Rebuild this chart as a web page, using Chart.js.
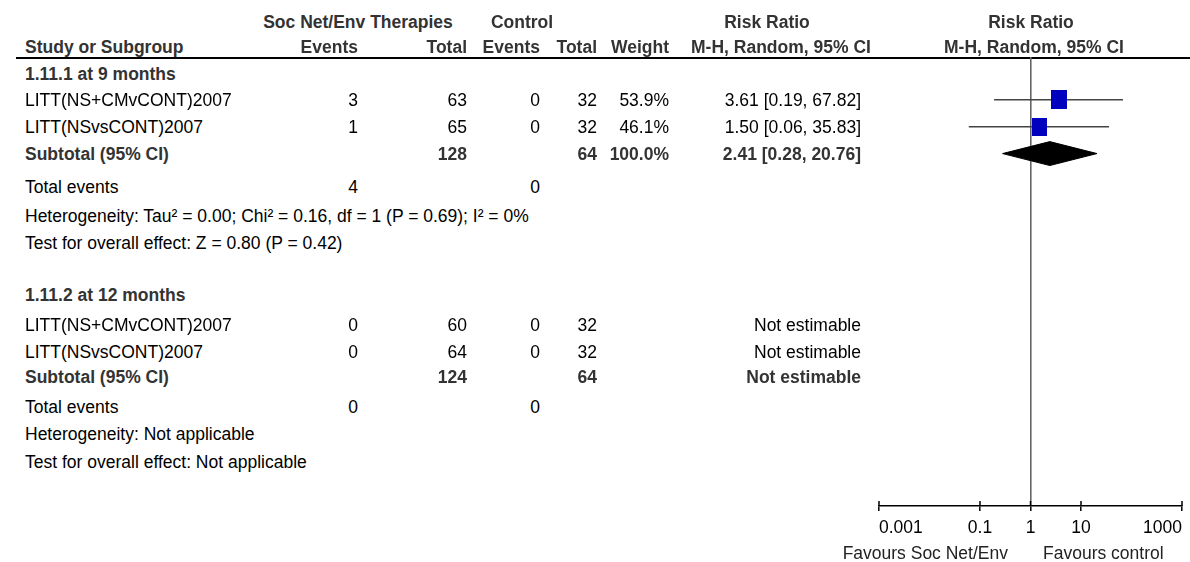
<!DOCTYPE html>
<html>
<head>
<meta charset="utf-8">
<script src="https://cdn.jsdelivr.net/npm/chart.js@4/dist/chart.umd.min.js"></script>
<style>
html, body { margin: 0; padding: 0; background: #fff; }
#page { position: relative; width: 1190px; height: 562px; overflow: hidden;
  font-family: "Liberation Sans", Arial, sans-serif; font-size: 17.5px; color: #000; }
.t { position: absolute; white-space: nowrap; line-height: 20px; }
.b { font-weight: bold; color: #333; }
#rule { position: absolute; left: 16px; right: 0; top: 57px; height: 1.5px; background: #000; }
#plot { position: absolute; left: 850px; top: 0; }
</style>
</head>
<body>
<div id="page">
  <div id="rule"></div>
  <canvas id="plot" width="340" height="562"></canvas>
</div>
<script>
// ---- data ----
var studyNames = ["LITT(NS+CMvCONT)2007", "LITT(NSvsCONT)2007"];

// 1.11.1 at 9 months
var g1ExpEvents = [3, 1];
var g1ExpTotal = [63, 65];
var g1CtlEvents = [0, 0];
var g1CtlTotal = [32, 32];
var g1Weight = [53.9, 46.1];
var g1RR = [3.61, 1.50];
var g1Lower = [0.19, 0.06];
var g1Upper = [67.82, 35.83];
var g1SubTotals = [128, 64];
var g1SubRR = [2.41, 0.28, 20.76];   // estimate, lower, upper
var g1TotalEvents = [4, 0];
var g1Het = "Heterogeneity: Tau² = 0.00; Chi² = 0.16, df = 1 (P = 0.69); I² = 0%";
var g1Test = "Test for overall effect: Z = 0.80 (P = 0.42)";

// 1.11.2 at 12 months
var g2ExpEvents = [0, 0];
var g2ExpTotal = [60, 64];
var g2CtlEvents = [0, 0];
var g2CtlTotal = [32, 32];
var g2SubTotals = [124, 64];
var g2TotalEvents = [0, 0];
var g2Het = "Heterogeneity: Not applicable";
var g2Test = "Test for overall effect: Not applicable";

var axisTicks = [0.001, 0.1, 1, 10, 1000];

// ---- layout (page pixels) ----
var rowY = {
  head1: 22, head2: 47,
  g1Title: 74, g1Rows: [100, 127], g1Sub: 154, g1Events: 187, g1Het: 216, g1Test: 243,
  g2Title: 295, g2Rows: [325, 352], g2Sub: 377, g2Events: 407, g2Het: 434, g2Test: 462
};
var col = { study: 25, expEv: 358, expTot: 467, ctlEv: 540, ctlTot: 597, weight: 669, rr: 861 };

var page = document.getElementById('page');

function put(text, x, y, align, bold) {
  var d = document.createElement('div');
  d.className = 't' + (bold ? ' b' : '');
  d.textContent = text;
  d.style.top = (y - 10) + 'px';
  if (align === 'left') {
    d.style.left = x + 'px';
  } else if (align === 'right') {
    d.style.left = (x - 300) + 'px'; d.style.width = '300px'; d.style.textAlign = 'right';
  } else {
    d.style.left = (x - 150) + 'px'; d.style.width = '300px'; d.style.textAlign = 'center';
  }
  page.appendChild(d);
  return d;
}

function ci(v) { return v[0].toFixed(2) + " [" + v[1].toFixed(2) + ", " + v[2].toFixed(2) + "]"; }

// headers
put("Soc Net/Env Therapies", 358, rowY.head1, 'center', true);
put("Control", 522, rowY.head1, 'center', true);
put("Risk Ratio", 767, rowY.head1, 'center', true);
put("Risk Ratio", 1031, rowY.head1, 'center', true);
put("Study or Subgroup", col.study, rowY.head2, 'left', true);
put("Events", col.expEv, rowY.head2, 'right', true);
put("Total", col.expTot, rowY.head2, 'right', true);
put("Events", col.ctlEv, rowY.head2, 'right', true);
put("Total", col.ctlTot, rowY.head2, 'right', true);
put("Weight", col.weight, rowY.head2, 'right', true);
put("M-H, Random, 95% CI", 781, rowY.head2, 'center', true);
put("M-H, Random, 95% CI", 1034, rowY.head2, 'center', true);

// group 1
put("1.11.1 at 9 months", col.study, rowY.g1Title, 'left', true);
studyNames.forEach(function (name, i) {
  var y = rowY.g1Rows[i];
  put(name, col.study, y, 'left');
  put(String(g1ExpEvents[i]), col.expEv, y, 'right');
  put(String(g1ExpTotal[i]), col.expTot, y, 'right');
  put(String(g1CtlEvents[i]), col.ctlEv, y, 'right');
  put(String(g1CtlTotal[i]), col.ctlTot, y, 'right');
  put(g1Weight[i].toFixed(1) + "%", col.weight, y, 'right');
  put(ci([g1RR[i], g1Lower[i], g1Upper[i]]), col.rr, y, 'right');
});
put("Subtotal (95% CI)", col.study, rowY.g1Sub, 'left', true);
put(String(g1SubTotals[0]), col.expTot, rowY.g1Sub, 'right', true);
put(String(g1SubTotals[1]), col.ctlTot, rowY.g1Sub, 'right', true);
put("100.0%", col.weight, rowY.g1Sub, 'right', true);
put(ci(g1SubRR), col.rr, rowY.g1Sub, 'right', true);
put("Total events", col.study, rowY.g1Events, 'left');
put(String(g1TotalEvents[0]), col.expEv, rowY.g1Events, 'right');
put(String(g1TotalEvents[1]), col.ctlEv, rowY.g1Events, 'right');
put(g1Het, col.study, rowY.g1Het, 'left');
put(g1Test, col.study, rowY.g1Test, 'left');

// group 2
put("1.11.2 at 12 months", col.study, rowY.g2Title, 'left', true);
studyNames.forEach(function (name, i) {
  var y = rowY.g2Rows[i];
  put(name, col.study, y, 'left');
  put(String(g2ExpEvents[i]), col.expEv, y, 'right');
  put(String(g2ExpTotal[i]), col.expTot, y, 'right');
  put(String(g2CtlEvents[i]), col.ctlEv, y, 'right');
  put(String(g2CtlTotal[i]), col.ctlTot, y, 'right');
  put("Not estimable", col.rr, y, 'right');
});
put("Subtotal (95% CI)", col.study, rowY.g2Sub, 'left', true);
put(String(g2SubTotals[0]), col.expTot, rowY.g2Sub, 'right', true);
put(String(g2SubTotals[1]), col.ctlTot, rowY.g2Sub, 'right', true);
put("Not estimable", col.rr, rowY.g2Sub, 'right', true);
put("Total events", col.study, rowY.g2Events, 'left');
put(String(g2TotalEvents[0]), col.expEv, rowY.g2Events, 'right');
put(String(g2TotalEvents[1]), col.ctlEv, rowY.g2Events, 'right');
put(g2Het, col.study, rowY.g2Het, 'left');
put(g2Test, col.study, rowY.g2Test, 'left');

// favours labels under the axis
var fl = put("Favours Soc Net/Env", 1008, 553, 'right'); fl.style.color = '#222';
var fr = put("Favours control", 1043, 553, 'left'); fr.style.color = '#222';

// ---- forest plot ----
// weighted box as point style
function box(weight) {
  var w = Math.round(2.15 * Math.sqrt(weight)), h = Math.round(w * 1.2);
  var c = document.createElement('canvas');
  c.width = w; c.height = h;
  var g = c.getContext('2d');
  g.fillStyle = '#0000BF';
  g.fillRect(0, 0, w, h);
  return c;
}

var datasets = [];
// boxes on top
datasets.push({
  data: g1RR.map(function (v, i) { return { x: v, y: rowY.g1Rows[i] }; }),
  pointStyle: g1Weight.map(box),
  order: 0
});
// CI whiskers
g1RR.forEach(function (v, i) {
  datasets.push({
    data: [{ x: g1Lower[i], y: rowY.g1Rows[i] }, { x: g1Upper[i], y: rowY.g1Rows[i] }],
    showLine: true, borderColor: '#444', borderWidth: 1.6, pointRadius: 0, order: 1
  });
});
// pooled diamond
var dh = 12;
datasets.push({
  data: [
    { x: g1SubRR[1], y: rowY.g1Sub },
    { x: g1SubRR[0], y: rowY.g1Sub - dh },
    { x: g1SubRR[2], y: rowY.g1Sub },
    { x: g1SubRR[0], y: rowY.g1Sub + dh },
    { x: g1SubRR[1], y: rowY.g1Sub }
  ],
  showLine: true, fill: 'shape', backgroundColor: '#000', borderColor: '#000', borderWidth: 1,
  pointRadius: 0, tension: 0, order: 2
});

// tick marks above the axis line
var tickUp = {
  id: 'tickUp',
  afterDraw: function (chart) {
    var sx = chart.scales.x, c = chart.ctx, b = chart.chartArea.bottom;
    c.save();
    c.strokeStyle = '#000';
    c.lineWidth = 1.5;
    axisTicks.forEach(function (v) {
      var px = sx.getPixelForValue(v);
      c.beginPath(); c.moveTo(px, b); c.lineTo(px, b - 5); c.stroke();
    });
    c.restore();
  }
};

var chart = new Chart(document.getElementById('plot'), {
  type: 'scatter',
  data: { datasets: datasets },
  options: {
    responsive: false,
    animation: false,
    layout: { padding: { top: 57, left: 29, right: 8, bottom: 16 } },
    plugins: { legend: { display: false }, tooltip: { enabled: false } },
    scales: {
      x: {
        type: 'logarithmic',
        min: 0.001,
        max: 1000,
        afterBuildTicks: function (scale) {
          scale.ticks = axisTicks.map(function (v) { return { value: v }; });
        },
        ticks: {
          align: 'inner',
          padding: 7,
          color: '#000',
          font: { family: '"Liberation Sans", Arial, sans-serif', size: 17.5 },
          callback: function (v) { return String(v); }
        },
        grid: {
          drawOnChartArea: true,
          color: function (ctx) { return ctx.tick && ctx.tick.value === 1 ? '#666' : 'rgba(0,0,0,0)'; },
          lineWidth: 1.6,
          tickColor: '#000',
          tickWidth: 1.5,
          tickLength: 5
        },
        border: { display: true, color: '#000', width: 1.5 }
      },
      y: {
        type: 'linear',
        min: 57,
        max: 508,
        reverse: true,
        display: false
      }
    }
  },
  plugins: [tickUp]
});
</script>
</body>
</html>
